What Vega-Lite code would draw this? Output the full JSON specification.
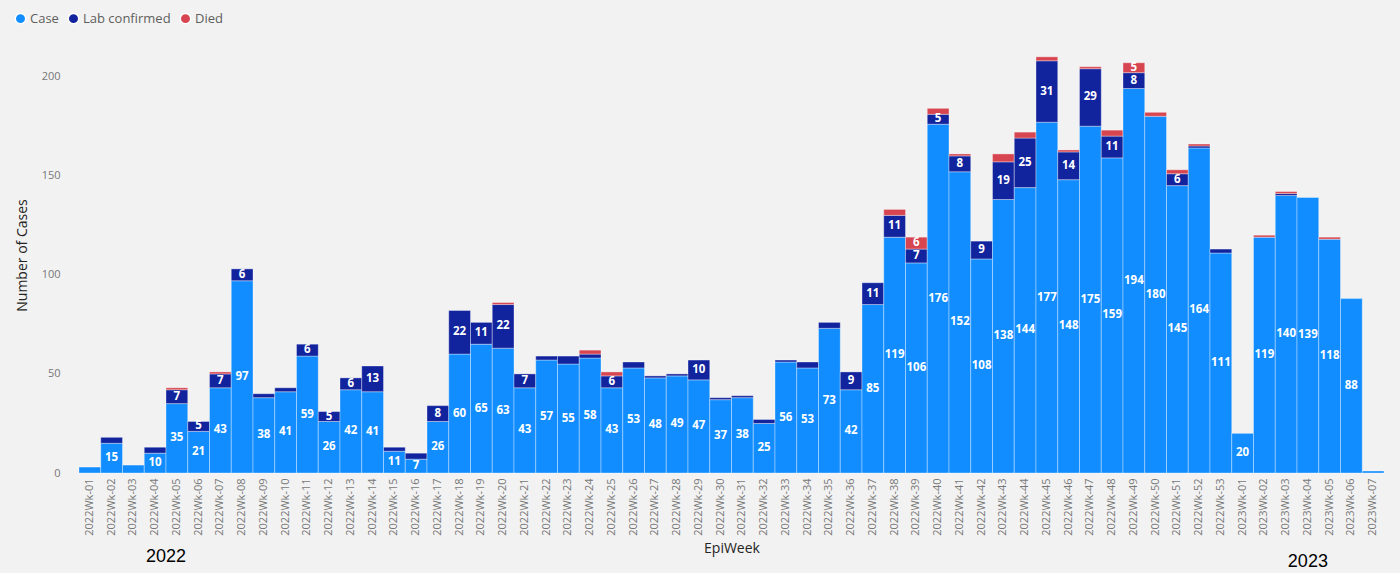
{
  "$schema": "https://vega.github.io/schema/vega-lite/v6.json",
  "width": 1305,
  "height": 436,
  "autosize": {"type": "none"},
  "padding": {"left": 79, "top": 37, "right": 16, "bottom": 100},
  "background": "#F2F2F2",
  "config": {"view": {"stroke": null}, "font": "Open Sans"},
  "data": {"values": [
    {"week":"2022Wk-01","type":"Case","value":3},
    {"week":"2022Wk-02","type":"Case","value":15},{"week":"2022Wk-02","type":"Lab confirmed","value":3},
    {"week":"2022Wk-03","type":"Case","value":4},
    {"week":"2022Wk-04","type":"Case","value":10},{"week":"2022Wk-04","type":"Lab confirmed","value":3},
    {"week":"2022Wk-05","type":"Case","value":35},{"week":"2022Wk-05","type":"Lab confirmed","value":7},{"week":"2022Wk-05","type":"Died","value":1},
    {"week":"2022Wk-06","type":"Case","value":21},{"week":"2022Wk-06","type":"Lab confirmed","value":5},
    {"week":"2022Wk-07","type":"Case","value":43},{"week":"2022Wk-07","type":"Lab confirmed","value":7},{"week":"2022Wk-07","type":"Died","value":1},
    {"week":"2022Wk-08","type":"Case","value":97},{"week":"2022Wk-08","type":"Lab confirmed","value":6},
    {"week":"2022Wk-09","type":"Case","value":38},{"week":"2022Wk-09","type":"Lab confirmed","value":2},
    {"week":"2022Wk-10","type":"Case","value":41},{"week":"2022Wk-10","type":"Lab confirmed","value":2},
    {"week":"2022Wk-11","type":"Case","value":59},{"week":"2022Wk-11","type":"Lab confirmed","value":6},
    {"week":"2022Wk-12","type":"Case","value":26},{"week":"2022Wk-12","type":"Lab confirmed","value":5},
    {"week":"2022Wk-13","type":"Case","value":42},{"week":"2022Wk-13","type":"Lab confirmed","value":6},
    {"week":"2022Wk-14","type":"Case","value":41},{"week":"2022Wk-14","type":"Lab confirmed","value":13},
    {"week":"2022Wk-15","type":"Case","value":11},{"week":"2022Wk-15","type":"Lab confirmed","value":2},
    {"week":"2022Wk-16","type":"Case","value":7},{"week":"2022Wk-16","type":"Lab confirmed","value":3},
    {"week":"2022Wk-17","type":"Case","value":26},{"week":"2022Wk-17","type":"Lab confirmed","value":8},
    {"week":"2022Wk-18","type":"Case","value":60},{"week":"2022Wk-18","type":"Lab confirmed","value":22},
    {"week":"2022Wk-19","type":"Case","value":65},{"week":"2022Wk-19","type":"Lab confirmed","value":11},
    {"week":"2022Wk-20","type":"Case","value":63},{"week":"2022Wk-20","type":"Lab confirmed","value":22},{"week":"2022Wk-20","type":"Died","value":1},
    {"week":"2022Wk-21","type":"Case","value":43},{"week":"2022Wk-21","type":"Lab confirmed","value":7},
    {"week":"2022Wk-22","type":"Case","value":57},{"week":"2022Wk-22","type":"Lab confirmed","value":2},
    {"week":"2022Wk-23","type":"Case","value":55},{"week":"2022Wk-23","type":"Lab confirmed","value":4},
    {"week":"2022Wk-24","type":"Case","value":58},{"week":"2022Wk-24","type":"Lab confirmed","value":2},{"week":"2022Wk-24","type":"Died","value":2},
    {"week":"2022Wk-25","type":"Case","value":43},{"week":"2022Wk-25","type":"Lab confirmed","value":6},{"week":"2022Wk-25","type":"Died","value":2},
    {"week":"2022Wk-26","type":"Case","value":53},{"week":"2022Wk-26","type":"Lab confirmed","value":3},
    {"week":"2022Wk-27","type":"Case","value":48},{"week":"2022Wk-27","type":"Lab confirmed","value":1},
    {"week":"2022Wk-28","type":"Case","value":49},{"week":"2022Wk-28","type":"Lab confirmed","value":1},
    {"week":"2022Wk-29","type":"Case","value":47},{"week":"2022Wk-29","type":"Lab confirmed","value":10},
    {"week":"2022Wk-30","type":"Case","value":37},{"week":"2022Wk-30","type":"Lab confirmed","value":1},
    {"week":"2022Wk-31","type":"Case","value":38},{"week":"2022Wk-31","type":"Lab confirmed","value":1},
    {"week":"2022Wk-32","type":"Case","value":25},{"week":"2022Wk-32","type":"Lab confirmed","value":2},
    {"week":"2022Wk-33","type":"Case","value":56},{"week":"2022Wk-33","type":"Lab confirmed","value":1},
    {"week":"2022Wk-34","type":"Case","value":53},{"week":"2022Wk-34","type":"Lab confirmed","value":3},
    {"week":"2022Wk-35","type":"Case","value":73},{"week":"2022Wk-35","type":"Lab confirmed","value":3},
    {"week":"2022Wk-36","type":"Case","value":42},{"week":"2022Wk-36","type":"Lab confirmed","value":9},
    {"week":"2022Wk-37","type":"Case","value":85},{"week":"2022Wk-37","type":"Lab confirmed","value":11},
    {"week":"2022Wk-38","type":"Case","value":119},{"week":"2022Wk-38","type":"Lab confirmed","value":11},{"week":"2022Wk-38","type":"Died","value":3},
    {"week":"2022Wk-39","type":"Case","value":106},{"week":"2022Wk-39","type":"Lab confirmed","value":7},{"week":"2022Wk-39","type":"Died","value":6},
    {"week":"2022Wk-40","type":"Case","value":176},{"week":"2022Wk-40","type":"Lab confirmed","value":5},{"week":"2022Wk-40","type":"Died","value":3},
    {"week":"2022Wk-41","type":"Case","value":152},{"week":"2022Wk-41","type":"Lab confirmed","value":8},{"week":"2022Wk-41","type":"Died","value":1},
    {"week":"2022Wk-42","type":"Case","value":108},{"week":"2022Wk-42","type":"Lab confirmed","value":9},
    {"week":"2022Wk-43","type":"Case","value":138},{"week":"2022Wk-43","type":"Lab confirmed","value":19},{"week":"2022Wk-43","type":"Died","value":4},
    {"week":"2022Wk-44","type":"Case","value":144},{"week":"2022Wk-44","type":"Lab confirmed","value":25},{"week":"2022Wk-44","type":"Died","value":3},
    {"week":"2022Wk-45","type":"Case","value":177},{"week":"2022Wk-45","type":"Lab confirmed","value":31},{"week":"2022Wk-45","type":"Died","value":2},
    {"week":"2022Wk-46","type":"Case","value":148},{"week":"2022Wk-46","type":"Lab confirmed","value":14},{"week":"2022Wk-46","type":"Died","value":1},
    {"week":"2022Wk-47","type":"Case","value":175},{"week":"2022Wk-47","type":"Lab confirmed","value":29},{"week":"2022Wk-47","type":"Died","value":1},
    {"week":"2022Wk-48","type":"Case","value":159},{"week":"2022Wk-48","type":"Lab confirmed","value":11},{"week":"2022Wk-48","type":"Died","value":3},
    {"week":"2022Wk-49","type":"Case","value":194},{"week":"2022Wk-49","type":"Lab confirmed","value":8},{"week":"2022Wk-49","type":"Died","value":5},
    {"week":"2022Wk-50","type":"Case","value":180},{"week":"2022Wk-50","type":"Died","value":2},
    {"week":"2022Wk-51","type":"Case","value":145},{"week":"2022Wk-51","type":"Lab confirmed","value":6},{"week":"2022Wk-51","type":"Died","value":2},
    {"week":"2022Wk-52","type":"Case","value":164},{"week":"2022Wk-52","type":"Lab confirmed","value":1},{"week":"2022Wk-52","type":"Died","value":1},
    {"week":"2022Wk-53","type":"Case","value":111},{"week":"2022Wk-53","type":"Lab confirmed","value":2},
    {"week":"2023Wk-01","type":"Case","value":20},
    {"week":"2023Wk-02","type":"Case","value":119},{"week":"2023Wk-02","type":"Died","value":1},
    {"week":"2023Wk-03","type":"Case","value":140},{"week":"2023Wk-03","type":"Lab confirmed","value":1},{"week":"2023Wk-03","type":"Died","value":1},
    {"week":"2023Wk-04","type":"Case","value":139},
    {"week":"2023Wk-05","type":"Case","value":118},{"week":"2023Wk-05","type":"Died","value":1},
    {"week":"2023Wk-06","type":"Case","value":88},
    {"week":"2023Wk-07","type":"Case","value":1}
  ]},
  "layer": [
    {
      "transform": [
        {"calculate": "indexof(['Case','Lab confirmed','Died'], datum.type)", "as": "ord"},
        {"stack": "value", "groupby": ["week"], "sort": [{"field": "ord", "order": "ascending"}], "as": ["v0", "v1"]}
      ],
      "mark": {"type": "bar", "stroke": "#ffffff", "strokeOpacity": 0.35, "strokeWidth": 1},
      "encoding": {
        "x": {"field": "week", "type": "ordinal", "title": "EpiWeek",
          "scale": {"paddingInner": 0, "paddingOuter": 0},
          "axis": {"labelAngle": -90, "labelFontSize": 11, "labelColor": "#777777", "labelPadding": 5,
            "ticks": false, "domain": false, "titleFontSize": 14, "titleColor": "#252423",
            "titleFontWeight": "normal", "titlePadding": 6}},
        "y": {"field": "v1", "type": "quantitative", "title": "Number of Cases",
          "scale": {"domain": [0, 220], "nice": false},
          "axis": {"values": [0, 50, 100, 150, 200], "grid": false, "ticks": false, "domain": false,
            "labelFontSize": 11, "labelColor": "#777777", "labelPadding": 19,
            "titleFontSize": 14, "titleColor": "#252423", "titleFontWeight": "normal", "titlePadding": 12}},
        "y2": {"field": "v0"},
        "color": {"field": "type", "type": "nominal",
          "scale": {"domain": ["Case", "Lab confirmed", "Died"], "range": ["#118DFF", "#12239E", "#D64550"]},
          "legend": {"title": null, "orient": "none", "legendX": -65, "legendY": -25, "direction": "horizontal",
            "symbolType": "circle", "symbolSize": 110, "labelFontSize": 13, "labelColor": "#605E5C",
            "columnPadding": 6, "labelOffset": 3}}
      }
    },
    {
      "transform": [
        {"calculate": "indexof(['Case','Lab confirmed','Died'], datum.type)", "as": "ord"},
        {"stack": "value", "groupby": ["week"], "sort": [{"field": "ord", "order": "ascending"}], "as": ["v0", "v1"]},
        {"calculate": "(datum.v0 + datum.v1) / 2", "as": "mid"},
        {"filter": "datum.value >= 5"}
      ],
      "mark": {"type": "text", "color": "#ffffff", "fontSize": 11.5, "fontWeight": "bold", "baseline": "middle"},
      "encoding": {
        "x": {"field": "week", "type": "ordinal"},
        "y": {"field": "mid", "type": "quantitative"},
        "text": {"field": "value", "type": "quantitative"}
      }
    },
    {
      "data": {"values": [{"week": "2022Wk-04", "year": "2022"}]},
      "mark": {"type": "text", "fontSize": 18, "fontWeight": "normal", "color": "#000000", "font": "Liberation Sans", "baseline": "middle"},
      "encoding": {
        "x": {"field": "week", "type": "ordinal", "bandPosition": 1},
        "y": {"datum": -42.5, "type": "quantitative"},
        "text": {"field": "year"}
      }
    },
    {
      "data": {"values": [{"week": "2023Wk-04", "year": "2023"}]},
      "mark": {"type": "text", "fontSize": 18, "fontWeight": "normal", "color": "#000000", "font": "Liberation Sans", "baseline": "middle"},
      "encoding": {
        "x": {"field": "week", "type": "ordinal"},
        "y": {"datum": -45, "type": "quantitative"},
        "text": {"field": "year"}
      }
    }
  ]
}
